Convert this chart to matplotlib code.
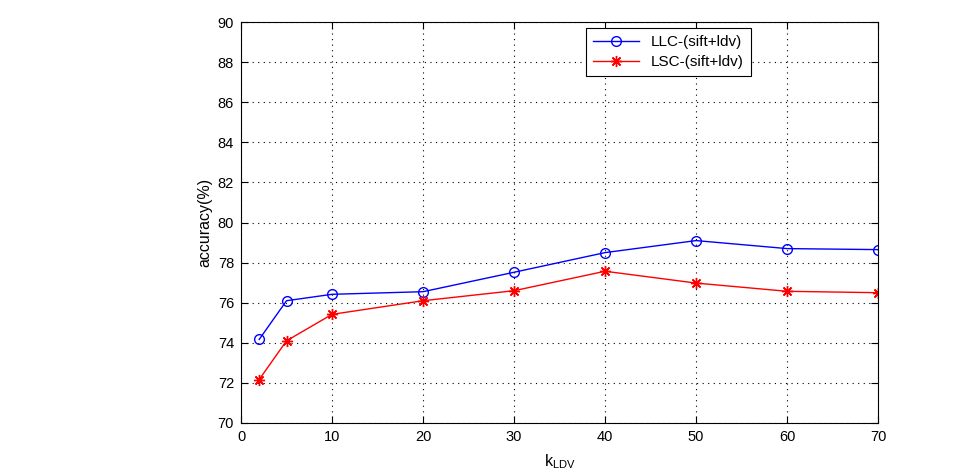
import numpy as np
import matplotlib.pyplot as plt

plt.rcParams['font.family'] = ['Liberation Sans', 'DejaVu Sans']
plt.rcParams['mathtext.default'] = 'regular'

# data
k_ldv = [2, 5, 10, 20, 30, 40, 50, 60, 70]
llc_acc = [74.17, 76.1, 76.42, 76.55, 77.52, 78.5, 79.1, 78.7, 78.65]
lsc_acc = [72.17, 74.1, 75.42, 76.1, 76.6, 77.57, 76.98, 76.57, 76.5]

xticks = np.arange(0, 71, 10)
yticks = np.arange(70, 91, 2)

fig = plt.figure(figsize=(9.66, 4.70), dpi=100)
ax = fig.add_axes([0.2495, 0.100, 0.6595, 0.853])

ax.plot(k_ldv, llc_acc, color='#0000ff', lw=1, marker='o', ms=7,
        mfc='none', mec='#0000ff', mew=1, label='LLC-(sift+ldv)')
# matlab-like asterisk marker
ax.plot(k_ldv, lsc_acc, color='#ff0000', lw=1, marker=(8, 2, 0), ms=8,
        mec='#ff0000', mew=1, label='LSC-(sift+ldv)')

ax.set_xlim(0, 70)
ax.set_ylim(70, 90)
ax.set_xticks(xticks)
ax.set_yticks(yticks)
ax.tick_params(direction='in', top=True, right=True, labelsize=10.5, length=5, pad=5)
ax.grid(True, color='black', linestyle=(0, (1, 4)), linewidth=0.8)
for s in ax.spines.values():
    s.set_linewidth(0.8)

ax.set_xlabel(r'k$_{LDV}$', fontsize=11.5, labelpad=6)
ax.set_ylabel('accuracy(%)', fontsize=11.5)

leg = ax.legend(loc='upper right', bbox_to_anchor=(0.8, 0.985), borderaxespad=0,
                fontsize=11, fancybox=False, framealpha=1, edgecolor='black',
                handlelength=3, borderpad=0.45, labelspacing=0.4)
leg.get_frame().set_linewidth(0.8)

fig.savefig('out.png', dpi=100)
